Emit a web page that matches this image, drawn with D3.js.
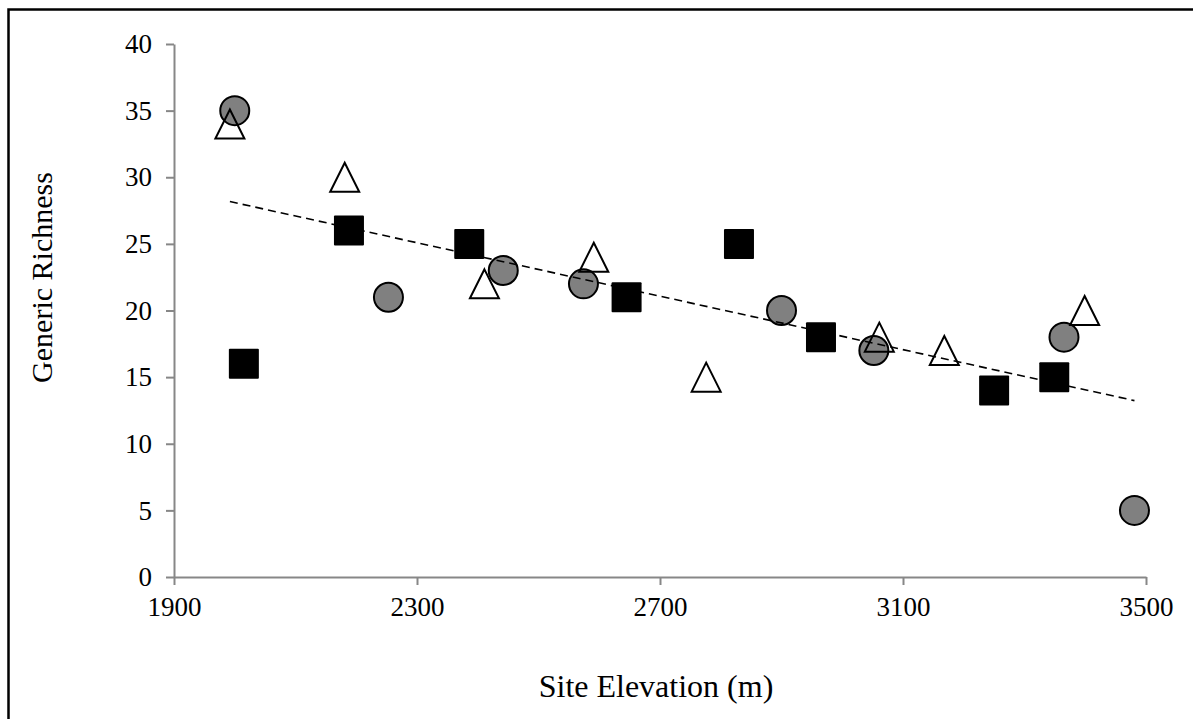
<!DOCTYPE html>
<html>
<head>
<meta charset="utf-8">
<script src="https://cdn.jsdelivr.net/npm/d3@7"></script>
<style>
  body { margin: 0; background: #fff; }
  svg { display: block; }
</style>
</head>
<body>
<div id="chart"></div>
<script>
// series: elevation (m) and generic richness
var circleX = [2000, 2253, 2442, 2574, 2900, 3052, 3365, 3481];
var circleY = [35, 21, 23, 22, 20, 17, 18, 5];
var squareX = [2015, 2188, 2386, 2645, 2830, 2965, 3250, 3349];
var squareY = [16, 26, 25, 21, 25, 18, 14, 15];
var triangleX = [1992, 2181, 2411, 2591, 2776, 3061, 3168, 3399];
var triangleY = [34, 30, 22, 24, 15, 18, 17, 20];
var xTicks = [1900, 2300, 2700, 3100, 3500];
var yTicks = [0, 5, 10, 15, 20, 25, 30, 35, 40];

var W = 1193, H = 719;
var margin = { top: 44, right: 47, bottom: 142, left: 174 };
var width = W - margin.left - margin.right,
    height = H - margin.top - margin.bottom;
var serif = "'Liberation Serif', 'Times New Roman', serif";

var svg = d3.select("#chart").append("svg")
  .attr("width", W)
  .attr("height", H);

// frame (only left and top edges are inside the picture)
svg.append("path")
  .attr("d", "M 8.5," + H + " V 9.5 H " + W)
  .attr("fill", "none")
  .attr("stroke", "#000")
  .attr("stroke-width", 2.5);

var g = svg.append("g")
  .attr("transform", "translate(" + margin.left + "," + margin.top + ")");

var x = d3.scaleLinear().domain([1900, 3500]).range([0, width]);
var y = d3.scaleLinear().domain([0, 40]).range([height, 0]);

function zipPts(xs, ys) {
  return xs.map(function (v, i) { return { x: v, y: ys[i] }; });
}
var circles = zipPts(circleX, circleY),
    squares = zipPts(squareX, squareY),
    triangles = zipPts(triangleX, triangleY);

// axes
var yAxis = g.append("g")
  .call(d3.axisLeft(y).tickValues(yTicks).tickFormat(d3.format("d"))
    .tickSize(8).tickPadding(14).tickSizeOuter(0));
var xAxis = g.append("g")
  .attr("transform", "translate(0," + height + ")")
  .call(d3.axisBottom(x).tickValues(xTicks).tickFormat(d3.format("d"))
    .tickSize(8).tickPadding(9).tickSizeOuter(0));

[xAxis, yAxis].forEach(function (a) {
  a.attr("font-family", serif).attr("font-size", 27);
  a.select(".domain").attr("stroke", "#878787").attr("stroke-width", 2);
  a.selectAll(".tick line").attr("stroke", "#878787").attr("stroke-width", 2);
  a.selectAll(".tick text")
    .attr("fill", "#000")
    .style("font-family", serif)
    .style("font-size", "27px");
});
xAxis.selectAll(".tick text").attr("dy", "0.8em");

// circles (grey)
g.append("g").selectAll("circle")
  .data(circles).enter()
  .append("circle")
  .attr("cx", function (d) { return x(d.x); })
  .attr("cy", function (d) { return y(d.y); })
  .attr("r", 14.5)
  .attr("fill", "#808080")
  .attr("stroke", "#000")
  .attr("stroke-width", 2);

// linear trend over all points
var all = circles.concat(squares, triangles);
var mx = d3.mean(all, function (d) { return d.x; }),
    my = d3.mean(all, function (d) { return d.y; });
var sxy = d3.sum(all, function (d) { return (d.x - mx) * (d.y - my); }),
    sxx = d3.sum(all, function (d) { return (d.x - mx) * (d.x - mx); });
var slope = sxy / sxx, icpt = my - slope * mx;
var ext = d3.extent(all, function (d) { return d.x; });

g.append("line")
  .attr("x1", x(ext[0]))
  .attr("y1", y(icpt + slope * ext[0]))
  .attr("x2", x(ext[1]))
  .attr("y2", y(icpt + slope * ext[1]))
  .attr("stroke", "#000")
  .attr("stroke-width", 1.6)
  .style("stroke-dasharray", "8,5");

// squares (black)
var sq = 30;
g.append("g").selectAll("rect")
  .data(squares).enter()
  .append("rect")
  .attr("x", function (d) { return x(d.x) - sq / 2; })
  .attr("y", function (d) { return y(d.y) - sq / 2; })
  .attr("width", sq)
  .attr("height", sq)
  .attr("rx", 1)
  .attr("fill", "#000");

// triangles (open)
var tw = 29, th = 29;
g.append("g").selectAll("path")
  .data(triangles).enter()
  .append("path")
  .attr("d", function (d) {
    var cx = x(d.x), cy = y(d.y);
    return "M " + cx + "," + (cy - th / 2) +
      " L " + (cx + tw / 2) + "," + (cy + th / 2) +
      " L " + (cx - tw / 2) + "," + (cy + th / 2) + " Z";
  })
  .attr("fill", "none")
  .attr("stroke", "#000")
  .attr("stroke-width", 2);

// axis titles
svg.append("text")
  .attr("transform", "translate(52," + (margin.top + height / 2 - 33) + ") rotate(-90)")
  .attr("text-anchor", "middle")
  .style("font-family", serif)
  .style("font-size", "30px")
  .text("Generic Richness");

svg.append("text")
  .attr("x", margin.left + width / 2 - 4)
  .attr("y", 697)
  .attr("text-anchor", "middle")
  .style("font-family", serif)
  .style("font-size", "32px")
  .text("Site Elevation (m)");
</script>
</body>
</html>
